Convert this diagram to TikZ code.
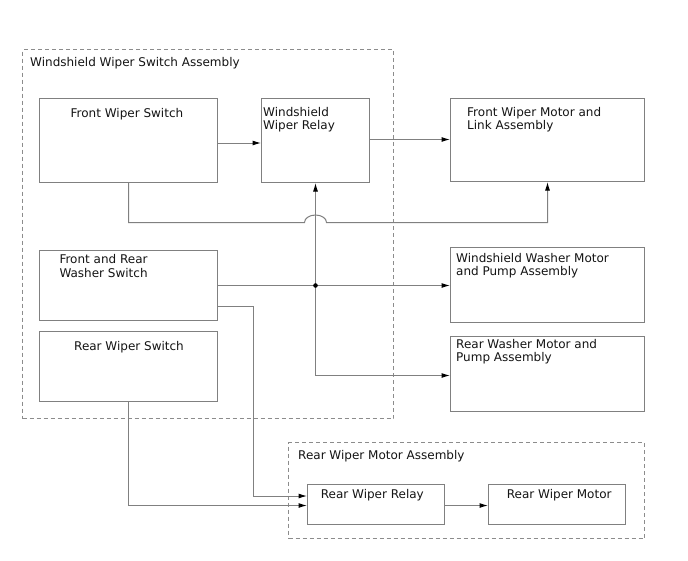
\documentclass[tikz,border=0pt]{standalone}
\usepackage{fontspec}
\setmainfont{DejaVu Sans}
\usetikzlibrary{arrows.meta,calc}
\definecolor{linegray}{RGB}{128,128,128}
\definecolor{dashgray}{RGB}{140,140,140}
\definecolor{txt}{RGB}{20,20,20}
\tikzset{
  box/.style={draw=linegray, line width=1pt, rectangle, inner sep=0pt, anchor=north west},
  group/.style={draw=dashgray, line width=1pt, dash pattern=on 4pt off 3pt, rectangle, inner sep=0pt, anchor=north west},
  lbl/.style={anchor=base west, inner sep=0pt, text=txt, font=\fontsize{12}{13.5}\selectfont},
  conn/.style={draw=linegray, line width=1pt, -{Latex[length=8.5pt,width=5pt,color=black]}},
  plain/.style={draw=linegray, line width=1pt}
}
\begin{document}
\begin{tikzpicture}[x=1pt,y=-1pt]
\useasboundingbox[fill=white] (0,0) rectangle (688,560);
% groups
\node[group, minimum width=371pt, minimum height=369pt] (gws) at (22,49) {};
\node[group, minimum width=356pt, minimum height=96pt] (grm) at (288,442) {};
% boxes
\node[box, minimum width=178pt, minimum height=84pt] (fws) at (39,98) {};
\node[box, minimum width=108pt, minimum height=84pt] (relay) at (261,98) {};
\node[box, minimum width=194pt, minimum height=83pt] (fwm) at (450,98) {};
\node[box, minimum width=178pt, minimum height=70pt] (wsw) at (39,250) {};
\node[box, minimum width=178pt, minimum height=70pt] (rws) at (39,331) {};
\node[box, minimum width=194pt, minimum height=75pt] (wmp) at (450,247) {};
\node[box, minimum width=194pt, minimum height=75pt] (rwp) at (450,336) {};
\node[box, minimum width=137pt, minimum height=40pt] (rrel) at (307,484) {};
\node[box, minimum width=137pt, minimum height=40pt] (rmot) at (488,484) {};
% texts
\node[lbl] (tgws) at (30,66.5) {Windshield Wiper Switch Assembly};
\node[lbl] (tgrm) at (298,459.3) {Rear Wiper Motor Assembly};
\node[lbl] (tfws) at (70.5,117) {Front Wiper Switch};
\node[lbl] (trel1) at (263,116.5) {Windshield};
\node[lbl] (trel2) at (263,129.7) {Wiper Relay};
\node[lbl] (tfwm1) at (467,116) {Front Wiper Motor and};
\node[lbl] (tfwm2) at (467,129.5) {Link Assembly};
\node[lbl] (twsw1) at (59.3,263.3) {Front and Rear};
\node[lbl] (twsw2) at (59.3,277) {Washer Switch};
\node[lbl] (trws) at (74,350) {Rear Wiper Switch};
\node[lbl] (twmp1) at (456,262) {Windshield Washer Motor};
\node[lbl] (twmp2) at (456,275.5) {and Pump Assembly};
\node[lbl] (trwp1) at (456,348.3) {Rear Washer Motor and};
\node[lbl] (trwp2) at (456,361.7) {Pump Assembly};
\node[lbl] (trrel) at (320.7,498.7) {Rear Wiper Relay};
\node[lbl] (trmot) at (506.7,498.7) {Rear Wiper Motor};
% connectors
\draw[conn] ([yshift=-2.5pt]fws.east) -- ([yshift=-2.5pt]relay.west);
\draw[conn] ([yshift=1pt]relay.east) -- ([yshift=1pt]relay.east -| fwm.west);
\coordinate (hopL) at (304.5,222.5);
\coordinate (hopR) at (326.5,222.5);
\draw[conn] (fws.south) |- (hopL) arc[start angle=180, end angle=0, x radius=11pt, y radius=7.5pt] -| (fwm.south);
\coordinate (J) at (relay.south |- wsw.east);
\draw[conn] (wsw.east) -- (wsw.east -| wmp.west);
\draw[conn] (J) -- (relay.south);
\draw[conn] (J) |- ([yshift=-1.5pt]rwp.west);
\fill[black] (J) circle[radius=2.3pt];
\draw[conn] ([yshift=-21pt]wsw.east) -- ++(35,0) |- ([yshift=8.5pt]rrel.west);
\draw[conn] (rws.south) |- ([yshift=-1pt]rrel.west);
\draw[conn] ([yshift=-1pt]rrel.east) -- ([yshift=-1pt]rmot.west);
\end{tikzpicture}
\end{document}
